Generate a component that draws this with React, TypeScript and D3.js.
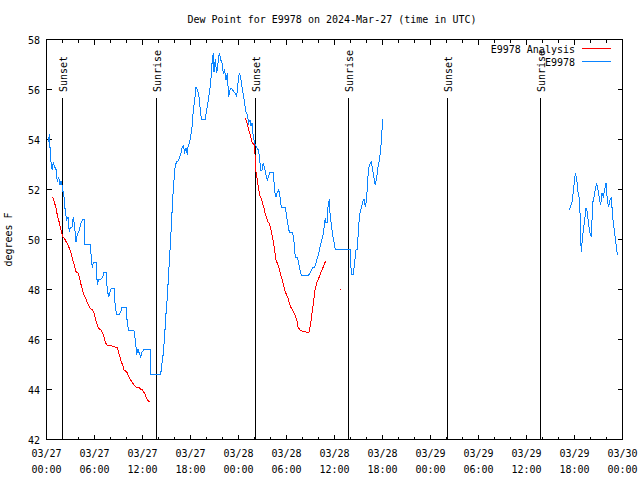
import React from "react";
import * as d3 from "d3";

const TITLE = "Dew Point for E9978 on 2024-Mar-27 (time in UTC)";
const Y_LABEL = "degrees F";
const SERIES_NAMES = ["E9978 Analysis", "E9978"];
const SERIES_COLORS = ["#ff0000", "#0a84ff"];
const Y_TICKS = [42, 44, 46, 48, 50, 52, 54, 56, 58];
const START = Date.UTC(2024, 2, 27, 0, 0);
const END = Date.UTC(2024, 2, 30, 0, 0);

// hours since 2024-03-27 00:00 UTC ; null = gap
const obsHours: (number | null)[] = [
  0.22, 0.35, 0.52, 0.69, 0.85, 1.02, 1.19, 1.35, 1.52, 1.69, 1.85, 2.02, 2.19, 2.35, 2.52, 2.69, 2.85, 3.02, 3.19, 3.35,
  3.52, 3.69, 3.85, 4.02, 4.19, 4.35, 4.52, 4.69, 4.77, 5.44, 5.6, 5.73, 5.85, 6.02, 6.19, 6.35, 6.52, 6.77, 7.02, 7.19,
  7.44, 7.6, 7.77, 7.94, 8.1, 8.44, 8.6, 8.77, 9.1, 9.27, 9.44, 9.94, 10.1, 10.27, 10.94, 11.1, 11.27, 11.44, 11.6, 11.77,
  11.94, 12.19, 12.94, 13.0, 14.27, 14.44, 14.6, 14.77, 14.94, 15.1, 15.27, 15.44, 15.6, 15.77, 15.94, 16.1, 16.27, 16.44,
  16.6, 16.77, 16.94, 17.1, 17.27, 17.44, 17.6, 17.69, 17.85, 18.02, 18.19, 18.35, 18.52, 18.69, 18.85, 19.02, 19.19, 19.35,
  19.85, 20.02, 20.19, 20.35, 20.52, 20.69, 20.85, 20.94, 21.1, 21.27, 21.44, 21.6, 21.77, 21.94, 22.1, 22.27, 22.44, 22.6,
  22.77, 22.94, 23.1, 23.27, 23.44, 23.6, 23.77, 23.94, 24.1, 24.27, 24.44, 24.6, 24.77, 24.94, 25.1, 25.27, 25.44, 25.56,
  25.69, 25.85, 26.02, 26.19, 26.35, 26.52, 26.69, 26.77, 26.94, 27.1, 27.27, 27.44, 27.6, 27.77, 27.94, 28.35, 28.52, 28.69,
  28.85, 29.02, 29.19, 29.35, 29.85, 30.02, 30.19, 30.35, 30.77, 30.94, 31.1, 31.35, 31.52, 31.69, 31.85, 32.77, 32.94, 33.1,
  33.35, 33.52, 33.69, 33.85, 34.02, 34.19, 34.35, 34.52, 34.69, 34.85, 34.94, 35.1, 35.19, 35.35, 35.44, 35.6, 35.77, 35.94,
  36.1, 37.94, 38.0, 38.1, 38.35, 38.52, 38.69, 38.85, 39.02, 39.19, 39.35, 39.52, 39.69, 39.85, 40.02, 40.1, 40.27, 40.44,
  40.6, 40.77, 40.94, 41.1, 41.27, 41.44, 41.6, 41.77, 41.94, 42.02,
  null,
  65.35, 65.52, 65.69, 65.85, 66.02, 66.1, 66.27, 66.44, 66.6, 66.69, 66.77, 66.85, 66.94, 67.1, 67.27, 67.44, 67.6, 67.77,
  67.94, 68.1, 68.19, 68.27, 68.44, 68.6, 68.77, 68.94, 69.1, 69.27, 69.44, 69.6, 69.77, 69.94, 70.1, 70.27, 70.44, 70.6,
  70.77, 70.94, 71.1, 71.27, 71.35,
];
const obsValues: (number | null)[] = [
  53.9, 54.2, 53.2, 52.8, 53.1, 52.9, 52.8, 52.3, 52.5, 52.2, 52.35, 52.0, 51.7, 51.1, 50.8, 50.9, 50.3, 50.5, 50.5, 50.9,
  50.5, 49.9, 50.2, 50.3, 50.5, 50.7, 50.8, 50.8, 49.8, 49.8, 49.3, 48.85, 49.1, 49.1, 49.1, 48.2, 48.4, 48.4, 48.5, 48.7,
  48.7, 48.0, 47.7, 47.9, 48.05, 48.05, 47.3, 47.0, 47.0, 47.1, 47.3, 47.3, 46.65, 46.35, 46.35, 46.0, 45.4, 45.6, 45.45, 45.3,
  45.5, 45.6, 45.6, 44.6, 44.6, 45.06, 45.45, 46.18, 47.05, 47.7, 48.65, 49.6, 50.5, 51.6, 52.4, 52.98, 53.1, 53.15,
  53.25, 53.4, 53.65, 53.74, 53.5, 53.65, 53.4, 53.7, 53.85, 54.1, 54.5, 55.18, 55.58, 56.1, 55.98, 55.85, 55.3, 54.82,
  54.82, 55.18, 55.5, 55.85, 56.25, 57.05, 57.45, 56.7, 57.2, 56.65, 57.05, 57.47, 57.2, 57.05, 56.65, 56.78, 56.38, 56.65,
  55.7, 55.98, 56.05, 55.98, 55.9, 55.85, 55.7, 56.25, 56.65, 56.5, 56.1, 55.78, 55.45, 55.1, 54.98, 54.65, 54.78, 54.54,
  54.65, 54.1, 53.85, 53.74, 53.65, 53.55, 53.05, 52.75, 52.78, 53.07, 52.85, 52.58, 52.38, 52.54, 52.7, 52.7, 51.9, 51.7,
  51.9, 52.0, 51.7, 51.3, 51.3, 50.9, 50.58, 50.3, 50.3, 49.9, 49.3, 49.3, 49.05, 48.78, 48.58, 48.58, 48.65, 48.78,
  48.9, 48.9, 49.05, 49.25, 49.45, 49.7, 49.9, 50.1, 50.45, 50.85, 50.67, 50.67, 51.3, 51.6, 51.05, 50.58, 50.18, 49.9,
  49.6, 49.6, 49.3, 48.6, 48.6, 49.1, 49.6, 49.6, 50.58, 51.05, 51.25, 51.5, 51.6, 51.3, 51.58, 52.18, 52.85, 53.02,
  53.1, 52.8, 52.45, 52.18, 52.45, 52.9, 53.18, 53.58, 54.38, 54.8,
  null,
  51.18, 51.34, 51.51, 51.91, 52.41, 52.65, 52.45, 51.91, 51.65, 51.05, 50.05, 49.51, 49.85, 50.38, 50.78, 51.25, 51.11, 50.58,
  50.25, 50.09, 50.78, 51.45, 51.71, 51.98, 52.25, 51.98, 51.65, 51.38, 51.85, 51.71, 51.98, 52.25, 51.58, 51.31, 51.58, 51.69,
  50.91, 50.45, 50.05, 49.61, 49.38,
];

const anaHours: (number | null)[] = [
  0.69, 0.85, 1.02, 1.19, 1.35, 1.52, 1.69, 1.85, 2.02, 2.19, 2.35, 2.52, 2.69, 2.85, 3.02, 3.19, 3.35, 3.52, 3.69, 3.94,
  4.1, 4.27, 4.44, 4.6, 4.77, 4.94, 5.1, 5.27, 5.44, 5.6, 5.77, 5.94, 6.1, 6.27, 6.44, 6.6, 6.85, 7.02, 7.19, 7.35,
  7.52, 7.69, 8.19, 8.52, 8.85, 9.02, 9.19, 9.35, 9.52, 9.69, 9.85, 10.02, 10.19, 10.35, 10.52, 10.69, 10.85, 11.02, 11.27, 11.6,
  11.77, 11.94, 12.1, 12.27, 12.44, 12.6, 12.77, 12.94,
  null,
  24.85, 25.02, 25.19, 25.35, 25.52, 25.69, 25.85, 26.02, 26.1, 26.19, 26.35, 26.52, 26.69, 26.85, 27.02, 27.19, 27.35, 27.52,
  27.69, 27.85, 28.02, 28.19, 28.35, 28.52, 28.69, 28.85, 29.02, 29.19, 29.35, 29.52, 29.69, 29.85, 30.02, 30.19, 30.35, 30.52,
  30.69, 30.85, 31.06, 31.27, 31.44, 31.69, 31.94, 32.44, 32.81, 33.0, 33.1, 33.27, 33.44, 33.6, 33.77, 33.94, 34.1, 34.27,
  34.44, 34.6, 34.77, 34.9,
  null,
  36.69, 36.85,
];
const anaValues: (number | null)[] = [
  51.69, 51.65, 51.45, 51.25, 50.98, 50.78, 50.54, 50.31, 50.11, 50.05, 49.98, 49.87, 49.78, 49.65, 49.51, 49.31, 49.11, 48.91, 48.71, 48.67,
  48.51, 48.25, 48.05, 47.85, 47.71, 47.61, 47.47, 47.38, 47.25, 47.21, 47.18, 47.05, 46.85, 46.65, 46.51, 46.42, 46.38, 46.25, 46.09, 45.91,
  45.78, 45.77, 45.74, 45.71, 45.67, 45.47, 45.31, 45.11, 44.98, 44.78, 44.75, 44.71, 44.58, 44.49, 44.38, 44.31, 44.22, 44.15, 44.09, 44.07,
  44.01, 44.01, 43.91, 43.85, 43.71, 43.61, 43.51, 43.51,
  null,
  54.85, 54.71, 54.49, 54.31, 54.11, 53.91, 53.82, 53.78, 53.1, 52.7, 52.4, 52.0, 51.74, 51.65, 51.42, 51.25, 51.02, 50.85,
  50.71, 50.65, 50.45, 50.18, 49.91, 49.58, 49.18, 49.05, 48.91, 48.71, 48.51, 48.31, 48.11, 47.91, 47.78, 47.65, 47.47, 47.31,
  47.21, 47.11, 46.98, 46.81, 46.5, 46.38, 46.34, 46.3, 46.3, 46.58, 46.85, 47.25, 47.65, 48.05, 48.25, 48.38, 48.51, 48.65,
  48.78, 48.91, 49.05, 49.14,
  null,
  48.0, 48.0,
];

const sunsetHours = [1.98, 26.02, 50.07];
const sunriseHours = [13.74, 37.66, 61.74];

type Pt = { t: Date; v: number } | null;
function toPoints(hours: (number | null)[], values: (number | null)[]): Pt[] {
  return hours.map((h, i) =>
    h === null || values[i] === null ? null : { t: new Date(START + h * 3600e3), v: values[i] as number }
  );
}

const FONT = "'DejaVu Sans Mono', monospace";

export default function App() {
  const W = 640, H = 480;
  const L = 46.5, R = 622.5, T = 39.5, B = 439.5;
  const x = d3.scaleUtc().domain([new Date(START), new Date(END)]).range([L, R]);
  const y = d3.scaleLinear().domain([42, 58]).range([B, T]);
  const line = d3
    .line<Pt>()
    .defined((d) => d !== null)
    .x((d) => x((d as any).t))
    .y((d) => y((d as any).v));

  const obs = toPoints(obsHours, obsValues);
  const ana = toPoints(anaHours, anaValues);
  const major = x.ticks(d3.utcHour.every(6) as any);
  const minor = x.ticks(d3.utcHour.every(2) as any).filter((d) => d.getUTCHours() % 6 !== 0);
  const fmtD = d3.utcFormat("%m/%d");
  const fmtT = d3.utcFormat("%H:%M");

  const events = [
    ...sunsetHours.map((h) => ({ h, label: "Sunset" })),
    ...sunriseHours.map((h) => ({ h, label: "Sunrise" })),
  ];

  return (
    <svg width={W} height={H} style={{ position: "absolute", left: 0, top: 0, background: "#fff" }} fontFamily={FONT} fontSize={10}>
      <rect x={0} y={0} width={W} height={H} fill="#fff" />
      <text x={332} y={23} textAnchor="middle" fill="#000">{TITLE}</text>
      <text transform={`translate(12,${(T + B) / 2}) rotate(-90)`} textAnchor="middle" fill="#000">{Y_LABEL}</text>

      {/* y ticks */}
      {Y_TICKS.map((v) => (
        <g key={"y" + v}>
          <line x1={L} x2={L + 5} y1={Math.round(y(v)) + 0.5 - 1} y2={Math.round(y(v)) + 0.5 - 1} stroke="#000" shapeRendering="crispEdges" />
          <line x1={R - 5} x2={R} y1={Math.round(y(v)) + 0.5 - 1} y2={Math.round(y(v)) + 0.5 - 1} stroke="#000" shapeRendering="crispEdges" />
          <text x={40} y={y(v) + 4} textAnchor="end" fill="#000">{v}</text>
        </g>
      ))}
      {/* x ticks */}
      {major.map((d) => (
        <g key={"xm" + d.getTime()}>
          <line x1={x(d)} x2={x(d)} y1={B} y2={B - 5} stroke="#000" shapeRendering="crispEdges" />
          <line x1={x(d)} x2={x(d)} y1={T} y2={T + 5} stroke="#000" shapeRendering="crispEdges" />
          <text x={x(d)} y={457} textAnchor="middle" fill="#000">{fmtD(d)}</text>
          <text x={x(d)} y={473} textAnchor="middle" fill="#000">{fmtT(d)}</text>
        </g>
      ))}
      {minor.map((d) => (
        <g key={"xn" + d.getTime()}>
          <line x1={x(d)} x2={x(d)} y1={B} y2={B - 3} stroke="#000" shapeRendering="crispEdges" />
          <line x1={x(d)} x2={x(d)} y1={T} y2={T + 3} stroke="#000" shapeRendering="crispEdges" />
        </g>
      ))}

      {/* sunrise / sunset */}
      {events.map((e) => {
        const xx = Math.round(x(new Date(START + e.h * 3600e3))) + 0.5;
        return (
          <g key={e.label + e.h}>
            <line x1={xx} x2={xx} y1={98} y2={B} stroke="#000" shapeRendering="crispEdges" />
            <text transform={`translate(${xx + 4},92) rotate(-90)`} textAnchor="start" fill="#000">{e.label}</text>
          </g>
        );
      })}

      <path d={line(ana) || ""} fill="none" stroke={SERIES_COLORS[0]} strokeWidth={1} shapeRendering="crispEdges" />
      <path d={line(obs) || ""} fill="none" stroke={SERIES_COLORS[1]} strokeWidth={1} shapeRendering="crispEdges" />

      {/* legend */}
      {SERIES_NAMES.map((n, i) => (
        <g key={n}>
          <text x={575} y={53 + i * 13} textAnchor="end" fill="#000">{n}</text>
          <line x1={582} x2={611} y1={48.5 + i * 13} y2={48.5 + i * 13} stroke={SERIES_COLORS[i]} shapeRendering="crispEdges" />
        </g>
      ))}

      <rect x={L} y={T} width={R - L} height={B - T} fill="none" stroke="#000" shapeRendering="crispEdges" />
    </svg>
  );
}
